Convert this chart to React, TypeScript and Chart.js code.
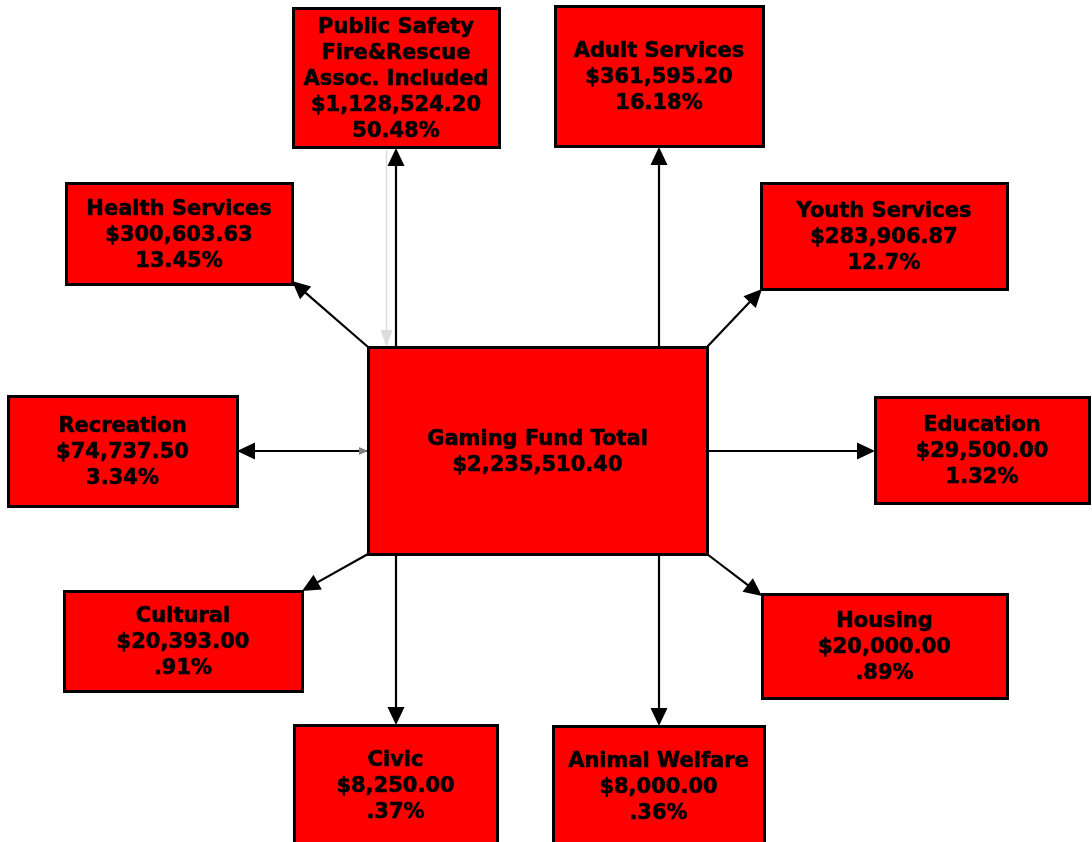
import React, { useEffect, useRef } from "react";
import { Chart, registerables } from "chart.js";

Chart.register(...registerables);

// ---- data ----
const totalLabel = "Gaming Fund Total";
const totalAmount = 2235510.4;

const categories = [
  "Public Safety\nFire&Rescue\nAssoc. Included",
  "Adult Services",
  "Health Services",
  "Youth Services",
  "Recreation",
  "Education",
  "Cultural",
  "Housing",
  "Civic",
  "Animal Welfare",
];
const amounts = [1128524.2, 361595.2, 300603.63, 283906.87, 74737.5, 29500.0, 20393.0, 20000.0, 8250.0, 8000.0];
const percents = [50.48, 16.18, 13.45, 12.7, 3.34, 1.32, 0.91, 0.89, 0.37, 0.36];

// ---- layout (diagram geometry in the plot's coordinate space) ----
const centerBox = [368, 347, 707, 554];
const boxes = [
  [293, 8, 499, 147],
  [555, 6, 763, 146],
  [66, 183, 292, 284],
  [761, 183, 1007, 289],
  [8, 396, 237, 506],
  [875, 397, 1089, 503],
  [64, 591, 302, 691],
  [762, 594, 1007, 698],
  [294, 725, 497, 846],
  [553, 726, 764, 846],
];
// arrows: [fromX, fromY, toX, toY]
const arrows = [
  [396, 347, 396, 148],
  [659, 347, 659, 147],
  [368, 347, 292, 281],
  [707, 347, 762, 289],
  [368, 451, 237, 451],
  [707, 451, 875, 451],
  [368, 554, 302, 591],
  [707, 554, 762, 596],
  [396, 554, 396, 725],
  [659, 554, 659, 726],
];

const fmtMoney = (v: number) =>
  "$" + v.toLocaleString("en-US", { minimumFractionDigits: 2, maximumFractionDigits: 2 });
const fmtPct = (p: number) => String(p).replace(/^0\./, ".") + "%";

const FONT = "bold 21px 'DejaVu Sans', Verdana, sans-serif";

function drawHead(ctx: CanvasRenderingContext2D, x1: number, y1: number, x2: number, y2: number, len: number, half: number, color: string) {
  const a = Math.atan2(y2 - y1, x2 - x1);
  ctx.save();
  ctx.fillStyle = color;
  ctx.beginPath();
  ctx.moveTo(x2, y2);
  ctx.lineTo(x2 - len * Math.cos(a) + half * Math.sin(a), y2 - len * Math.sin(a) - half * Math.cos(a));
  ctx.lineTo(x2 - len * Math.cos(a) - half * Math.sin(a), y2 - len * Math.sin(a) + half * Math.cos(a));
  ctx.closePath();
  ctx.fill();
  ctx.restore();
}

const diagramPlugin = {
  id: "diagram",
  afterDatasetsDraw(chart: any) {
    const ctx: CanvasRenderingContext2D = chart.ctx;
    const xs = chart.scales.x;
    const ys = chart.scales.y;
    const px = (v: number) => xs.getPixelForValue(v);
    const py = (v: number) => ys.getPixelForValue(v);

    const line = (x1: number, y1: number, x2: number, y2: number, color: string, w: number) => {
      ctx.save();
      ctx.strokeStyle = color;
      ctx.lineWidth = w;
      ctx.beginPath();
      ctx.moveTo(x1, y1);
      ctx.lineTo(x2, y2);
      ctx.stroke();
      ctx.restore();
    };

    // grey back-arrow on public safety link
    line(px(386.5), py(150), px(386.5), py(334), "#dcdcdc", 1.5);
    drawHead(ctx, px(386.5), py(150), px(386.5), py(347), 17, 6, "#dcdcdc");

    arrows.forEach((a, i) => {
      const [x1, y1, x2, y2] = [px(a[0]), py(a[1]), px(a[2]), py(a[3])];
      const ang = Math.atan2(y2 - y1, x2 - x1);
      line(x1, y1, x2 - 12 * Math.cos(ang), y2 - 12 * Math.sin(ang), "#000", 2.2);
      drawHead(ctx, x1, y1, x2, y2, 18, 8.5, "#000");
      if (i === 4) {
        drawHead(ctx, x2, y2, x1, y1, 9, 4, "#808080");
      }
    });

    const drawBox = (b: number[], lines: string[]) => {
      const x1 = px(b[0]), y1 = py(b[1]), x2 = px(b[2]), y2 = py(b[3]);
      ctx.save();
      ctx.fillStyle = "#ff0000";
      ctx.fillRect(x1, y1, x2 - x1, y2 - y1);
      ctx.strokeStyle = "#000";
      ctx.lineWidth = 3;
      ctx.strokeRect(x1 + 0.5, y1 + 0.5, x2 - x1, y2 - y1);
      ctx.fillStyle = "#000";
      ctx.font = FONT;
      ctx.textAlign = "center";
      ctx.textBaseline = "middle";
      ctx.lineWidth = 0.6;
      ctx.lineJoin = "round";
      const lh = 26;
      const cx = (x1 + x2) / 2;
      const yc = b[3] > 842 ? (y1 + py(b[1] + 120)) / 2 : (y1 + y2) / 2;
      const start = yc - ((lines.length - 1) * lh) / 2;
      lines.forEach((t, k) => {
        ctx.fillText(t, cx, start + k * lh + 2);
        ctx.strokeText(t, cx, start + k * lh + 2);
      });
      ctx.restore();
    };

    drawBox(centerBox, [totalLabel, fmtMoney(totalAmount)]);
    categories.forEach((c, i) => {
      drawBox(boxes[i], [...c.split("\n"), fmtMoney(amounts[i]), fmtPct(percents[i])]);
    });
  },
};

export default function App() {
  const ref = useRef<HTMLCanvasElement>(null);
  useEffect(() => {
    if (!ref.current) return;
    const chart = new Chart(ref.current, {
      type: "scatter",
      data: {
        datasets: [
          {
            data: categories.map((c, i) => ({ x: (boxes[i][0] + boxes[i][2]) / 2, y: (boxes[i][1] + boxes[i][3]) / 2 })),
            pointRadius: 0,
          },
        ],
      },
      options: {
        animation: false,
        responsive: false,
        maintainAspectRatio: false,
        layout: { padding: 0 },
        plugins: { legend: { display: false }, tooltip: { enabled: false } },
        scales: {
          x: { type: "linear", min: 0, max: 1092, display: false },
          y: { type: "linear", min: 0, max: 842, reverse: true, display: false },
        },
      },
      plugins: [diagramPlugin],
    });
    return () => chart.destroy();
  }, []);
  return (
    <div style={{ position: "absolute", left: 0, top: 0, width: 1092, height: 842, background: "#fff" }}>
      <canvas ref={ref} width={1092} height={842} style={{ display: "block" }} />
    </div>
  );
}
